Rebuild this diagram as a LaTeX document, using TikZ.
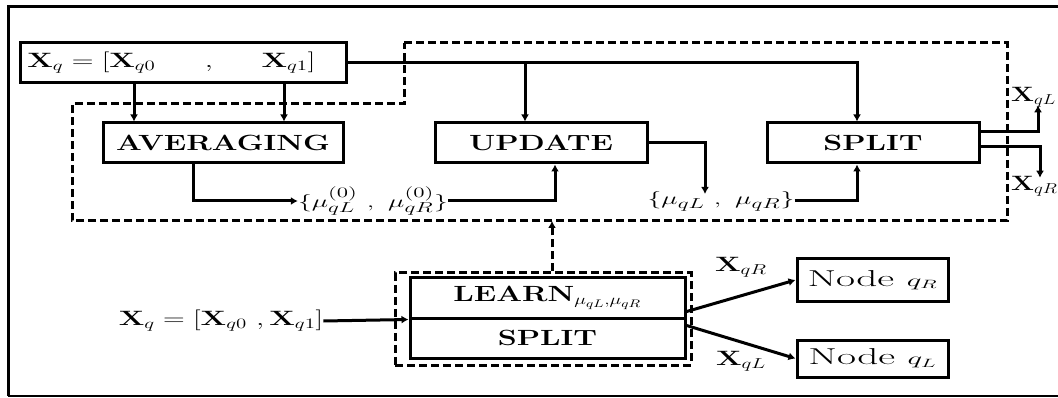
\documentclass[tikz,border=0pt]{standalone}
\usepackage{graphicx}
\usetikzlibrary{arrows.meta}
\newcommand{\hs}[2][1.45]{\scalebox{#1}[1]{#2}}
\begin{document}
\begin{tikzpicture}[x=1pt,y=-1pt,
  box/.style={draw, line width=3pt, inner sep=0pt, minimum height=40pt, font=\fontsize{22}{26}\selectfont\bfseries},
  txt/.style={inner sep=0pt, font=\fontsize{21}{24}\selectfont},
  lnk/.style={line width=3pt, -{Latex[length=7pt,width=8pt]}},
  dsh/.style={line width=3pt, dash pattern=on 8pt off 4pt}]
\useasboundingbox (0,0) rectangle (1058,398);
% outer frame
\draw[line width=3pt] (1058,7) -- (8,7) -- (8,396);
\draw[line width=1.8pt] (8,396) -- (1058,396);
% dashed region
\coordinate (d1) at (404,43);
\coordinate (d2) at (1007,43);
\coordinate (d3) at (1007,221);
\coordinate (d4) at (72,221);
\coordinate (d5) at (72,104);
\coordinate (d6) at (404,104);
\draw[dsh] (d1) -- (d2) -- (d3) -- (d4) -- (d5) -- (d6) -- cycle;
% nodes
\node[box, minimum width=326pt, font=\fontsize{21}{24}\selectfont] (tb) at (183,63)
  {\hs{\hspace{2pt}$\mathbf{X}_q=[\mathbf{X}_{q0}\hspace{34pt},\hspace{30pt}\mathbf{X}_{q1}]\hspace{18pt}$}};
\node[box, minimum width=240pt] (avg) at (223,143) {\hs[1.38]{AVERAGING}};
\node[box, minimum width=212pt] (upd) at (541,143) {\hs[1.38]{UPDATE}};
\node[box, minimum width=212pt] (spl) at (873,143) {\hs[1.38]{SPLIT}};
\node[txt, font=\fontsize{19}{22}\selectfont] (mu0) at (373,201) {\hs[1.6]{$\{\mu^{(0)}_{qL}\ ,\ \mu^{(0)}_{qR}\}$}};
\node[txt, font=\fontsize{19}{22}\selectfont] (mu) at (721,201) {\hs[1.6]{$\{\mu_{qL}\ ,\ \mu_{qR}\}$}};
\node[txt, anchor=west] (xl) at (1011,97) {\hs[1.3]{$\mathbf{X}_{qL}$}};
\node[txt, anchor=west] (xr) at (1011,186) {\hs[1.3]{$\mathbf{X}_{qR}$}};
% bottom part
\node[draw, dsh, inner sep=0pt, minimum width=296pt, minimum height=92pt] (outer) at (543,319) {};
\node[box, minimum width=275pt] (learn) at (547.5,298) {\hs[1.38]{LEARN$_{\mu_{qL},\mu_{qR}}$}};
\node[box, minimum width=275pt] (split2) at (547.5,338) {\hs[1.38]{SPLIT}};
\node[txt] (inp) at (221,321) {\hs{$\mathbf{X}_q=[\mathbf{X}_{q0}\ ,\mathbf{X}_{q1}]$}};
\node[box, minimum width=151pt, minimum height=42pt, font=\fontsize{23}{26}\selectfont] (nr) at (872.5,280) {\hs[1.8]{Node $\scriptstyle q_R$}};
\node[box, minimum width=151pt, minimum height=37pt, font=\fontsize{23}{26}\selectfont] (nl) at (872.5,358.5) {\hs[1.8]{Node $\scriptstyle q_L$}};
\node[txt] (lr) at (741,267) {\hs{$\mathbf{X}_{qR}$}};
\node[txt] (ll) at (741,361) {\hs{$\mathbf{X}_{qL}$}};
% helper coordinates
\coordinate (cx1) at (134,0);
\coordinate (cx2) at (284,0);
\coordinate (cx3) at (525,0);
\coordinate (cx4) at (857,0);
\coordinate (cx5) at (193,0);
\coordinate (cx6) at (555,0);
\coordinate (cx7) at (705,0);
\coordinate (cx8) at (1038,0);
\coordinate (cx9) at (1040,0);
\coordinate (cx10) at (552,0);
\coordinate (cy5) at (0,132);
\coordinate (cy6) at (0,147);
\coordinate (o1) at (685,312);
\coordinate (o2) at (685,325);
% connectors
\draw[lnk] (tb.south -| cx1) -- (avg.north -| cx1);
\draw[lnk] (tb.south -| cx2) -- (avg.north -| cx2);
\draw[lnk] (tb.east) -- (cx4 |- tb.east) -- (spl.north -| cx4);
\draw[lnk] (cx3 |- tb.east) -- (upd.north -| cx3);
\draw[lnk] (avg.south -| cx5) |- (mu0.west);
\draw[lnk] (mu0.east) -| (upd.south -| cx6);
\draw[lnk] (upd.east) -| ([yshift=-3pt]mu.north -| cx7);
\draw[lnk] (mu.east) -| (spl.south -| cx4);
\draw[lnk] (spl.east |- cy5) -| ([yshift=2pt]xl.south -| cx8);
\draw[lnk] (spl.east |- cy6) -| ([yshift=-2pt]xr.north -| cx9);
\draw[dsh, -{Latex[length=7pt,width=8pt]}] (outer.north -| cx10) -- (d4 -| cx10);
\draw[lnk] (inp.east) -- (learn.south west);
\draw[lnk] (o1) -- (nr.west);
\draw[lnk] (o2) -- (nl.west);
\end{tikzpicture}
\end{document}
